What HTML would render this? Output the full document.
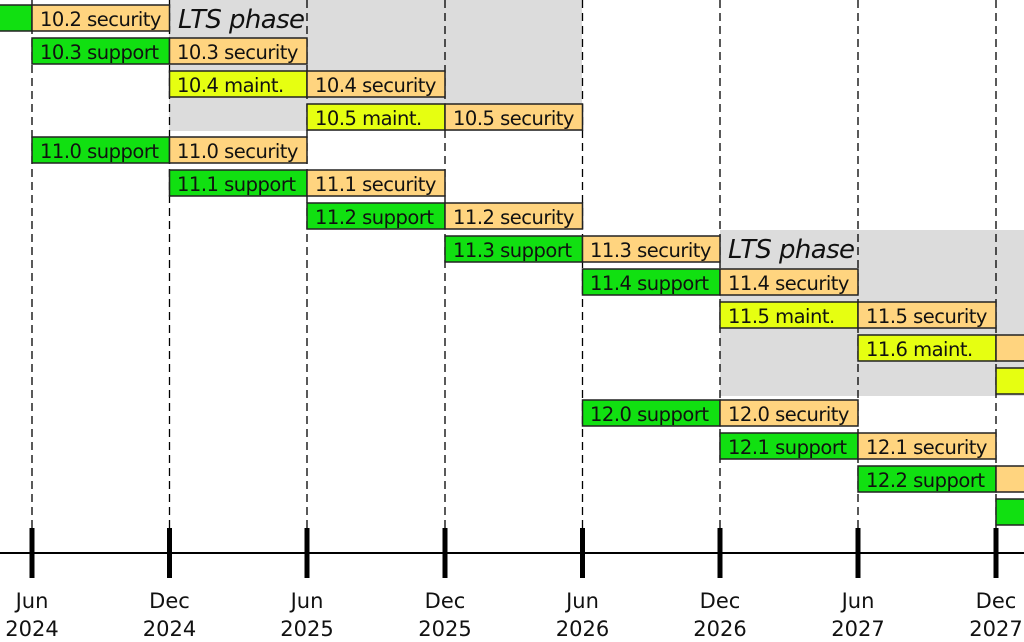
<!DOCTYPE html>
<html><head><style>
html,body{margin:0;padding:0;background:#fff;}
svg{display:block;font-family:"DejaVu Sans","Liberation Sans",sans-serif;}
</style></head><body>
<svg width="1024" height="642" viewBox="0 0 1024 642" xmlns="http://www.w3.org/2000/svg">
<rect x="0" y="0" width="1024" height="642" fill="#fff"/>
<rect x="169" y="0" width="413" height="131" fill="#dcdcdc"/>
<rect x="720" y="230" width="304" height="166" fill="#dcdcdc"/>
<g stroke="#000" stroke-width="1.3" stroke-dasharray="8,5">
<line x1="32" y1="0" x2="32" y2="528"/><line x1="169.5" y1="0" x2="169.5" y2="528"/><line x1="307" y1="0" x2="307" y2="528"/><line x1="445" y1="0" x2="445" y2="528"/><line x1="582.5" y1="0" x2="582.5" y2="528"/><line x1="720" y1="0" x2="720" y2="528"/><line x1="858" y1="0" x2="858" y2="528"/><line x1="996" y1="0" x2="996" y2="528"/>
</g>
<g stroke="#222" stroke-width="1.5">
<rect x="-2" y="5" width="34" height="26" fill="#11e011"/><rect x="32" y="5" width="137.5" height="26" fill="#ffd47f"/>
<rect x="32" y="38" width="137.5" height="26" fill="#11e011"/><rect x="169.5" y="38" width="137.5" height="26" fill="#ffd47f"/>
<rect x="169.5" y="71" width="137.5" height="26" fill="#e6ff11"/><rect x="307" y="71" width="138" height="26" fill="#ffd47f"/>
<rect x="307" y="104" width="138" height="26" fill="#e6ff11"/><rect x="445" y="104" width="137.5" height="26" fill="#ffd47f"/>
<rect x="32" y="137" width="137.5" height="26" fill="#11e011"/><rect x="169.5" y="137" width="137.5" height="26" fill="#ffd47f"/>
<rect x="169.5" y="170" width="137.5" height="26" fill="#11e011"/><rect x="307" y="170" width="138" height="26" fill="#ffd47f"/>
<rect x="307" y="203" width="138" height="26" fill="#11e011"/><rect x="445" y="203" width="137.5" height="26" fill="#ffd47f"/>
<rect x="445" y="236" width="137.5" height="26" fill="#11e011"/><rect x="582.5" y="236" width="137.5" height="26" fill="#ffd47f"/>
<rect x="582.5" y="269" width="137.5" height="26" fill="#11e011"/><rect x="720" y="269" width="138" height="26" fill="#ffd47f"/>
<rect x="720" y="302" width="138" height="26" fill="#e6ff11"/><rect x="858" y="302" width="138" height="26" fill="#ffd47f"/>
<rect x="858" y="335" width="138" height="26" fill="#e6ff11"/><rect x="996" y="335" width="40" height="26" fill="#ffd47f"/>
<rect x="996" y="368" width="40" height="26" fill="#e6ff11"/>
<rect x="582.5" y="400" width="137.5" height="26" fill="#11e011"/><rect x="720" y="400" width="138" height="26" fill="#ffd47f"/>
<rect x="720" y="433" width="138" height="26" fill="#11e011"/><rect x="858" y="433" width="138" height="26" fill="#ffd47f"/>
<rect x="858" y="466" width="138" height="26" fill="#11e011"/><rect x="996" y="466" width="40" height="26" fill="#ffd47f"/>
<rect x="996" y="499" width="40" height="26" fill="#11e011"/>
</g>
<g font-size="19.5" fill="#111" letter-spacing="-0.5">
<text x="40" y="26">10.2 security</text>
<text x="40" y="59">10.3 support</text><text x="177" y="59">10.3 security</text>
<text x="177" y="92">10.4 maint.</text><text x="315" y="92">10.4 security</text>
<text x="315" y="125">10.5 maint.</text><text x="453" y="125">10.5 security</text>
<text x="40" y="158">11.0 support</text><text x="177" y="158">11.0 security</text>
<text x="177" y="191">11.1 support</text><text x="315" y="191">11.1 security</text>
<text x="315" y="224">11.2 support</text><text x="453" y="224">11.2 security</text>
<text x="453" y="257">11.3 support</text><text x="590" y="257">11.3 security</text>
<text x="590" y="290">11.4 support</text><text x="728" y="290">11.4 security</text>
<text x="728" y="323">11.5 maint.</text><text x="866" y="323">11.5 security</text>
<text x="866" y="356">11.6 maint.</text>
<text x="590" y="421">12.0 support</text><text x="728" y="421">12.0 security</text>
<text x="728" y="454">12.1 support</text><text x="866" y="454">12.1 security</text>
<text x="866" y="487">12.2 support</text>
</g>
<g font-size="26" font-style="italic" fill="#111" letter-spacing="-0.6">
<text x="178" y="28">LTS phase</text>
<text x="728" y="258">LTS phase</text>
</g>
<line x1="0" y1="553" x2="1024" y2="553" stroke="#000" stroke-width="2"/>
<g fill="#000">
<rect x="29.5" y="528" width="5" height="50"/><rect x="167" y="528" width="5" height="50"/><rect x="304.5" y="528" width="5" height="50"/><rect x="442.5" y="528" width="5" height="50"/><rect x="580" y="528" width="5" height="50"/><rect x="717.5" y="528" width="5" height="50"/><rect x="855.5" y="528" width="5" height="50"/><rect x="993.5" y="528" width="5" height="50"/>
</g>
<g font-size="21" fill="#111" text-anchor="middle">
<text x="32" y="608">Jun</text><text x="32" y="636">2024</text>
<text x="169.5" y="608">Dec</text><text x="169.5" y="636">2024</text>
<text x="307" y="608">Jun</text><text x="307" y="636">2025</text>
<text x="445" y="608">Dec</text><text x="445" y="636">2025</text>
<text x="582.5" y="608">Jun</text><text x="582.5" y="636">2026</text>
<text x="720" y="608">Dec</text><text x="720" y="636">2026</text>
<text x="858" y="608">Jun</text><text x="858" y="636">2027</text>
<text x="996" y="608">Dec</text><text x="996" y="636">2027</text>
</g>
</svg>
</body></html>
